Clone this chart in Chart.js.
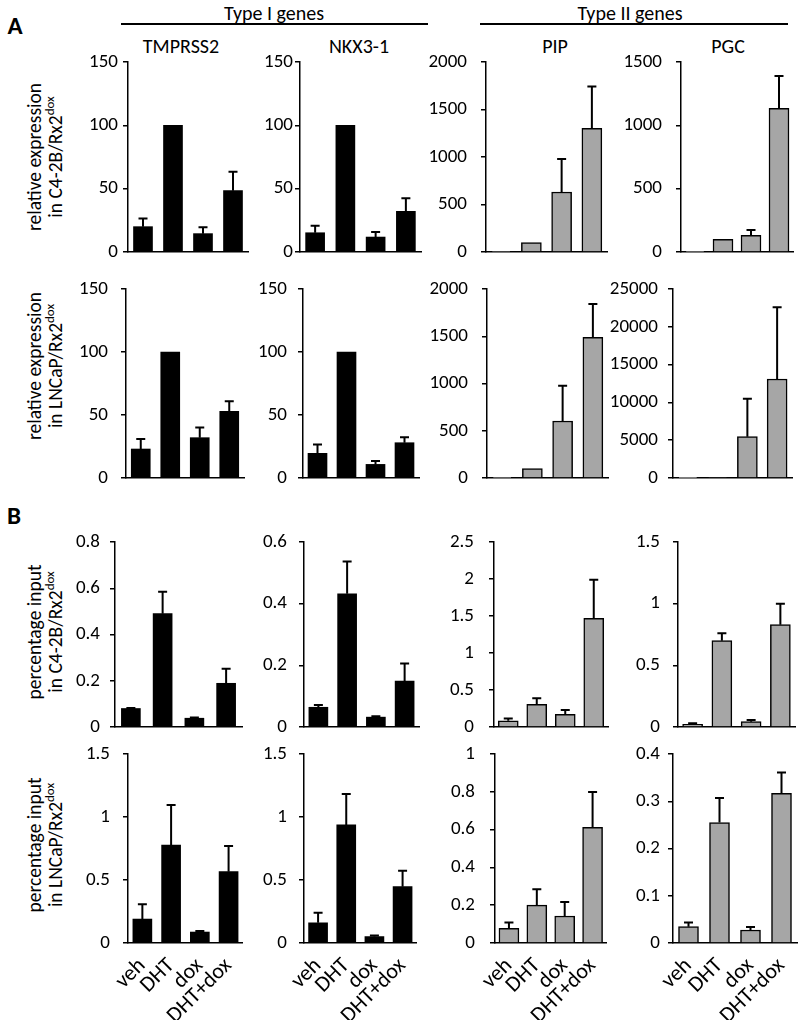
<!DOCTYPE html>
<html>
<head>
<meta charset="utf-8">
<script src="https://cdn.jsdelivr.net/npm/chart.js@4.4.0/dist/chart.umd.min.js"></script>
<style>
body { margin: 0; background: #fff; }
#fig { position: relative; width: 800px; height: 1020px; overflow: hidden; font-family: Carlito, Lato, sans-serif; color: #000; }
#fig canvas { position: absolute; }
.txt { position: absolute; white-space: nowrap; transform: translate(-50%, -50%); font-size: 20px; }
.panel { font-weight: bold; font-size: 25px; }
.rule { position: absolute; height: 2px; background: #000; }
.ytitle { position: absolute; white-space: nowrap; transform: translate(-50%, -50%) rotate(-90deg); text-align: center; font-size: 19.5px; line-height: 21px; }
.ytitle sup { font-size: 13px; vertical-align: 0; position: relative; top: -8px; }
</style>
</head>
<body>
<div id="fig"></div>
<script>
const categories = ['veh', 'DHT', 'dox', 'DHT+dox'];
const genes = ['TMPRSS2', 'NKX3-1', 'PIP', 'PGC'];
const geneTypes = ['Type I genes', 'Type II genes'];
const rowTitles = [
  ['relative expression', 'in C4-2B/Rx2'],
  ['relative expression', 'in LNCaP/Rx2'],
  ['percentage input', 'in C4-2B/Rx2'],
  ['percentage input', 'in LNCaP/Rx2']
];

// A: relative expression, one inner array per gene
const exprC42bMean = [[20, 100, 14.5, 48.4], [15.2, 100, 11.8, 32.1], [5, 100, 632, 1302], [3, 100, 132, 1134]];
const exprC42bErr = [[6.5, 0, 5, 15], [5.5, 0, 4, 10.3], [0, 0, 347, 440], [0, 0, 42, 255]];
const exprLncapMean = [[23, 100, 32, 53], [19.6, 100, 10.8, 28], [2, 100, 603, 1489], [10, 100, 5463, 13095]];
const exprLncapErr = [[8, 0, 8, 8], [7, 0, 2.7, 4.3], [0, 0, 374, 352], [0, 0, 5030, 9480]];
// B: percentage input (ChIP)
const chipC42bMean = [[0.08, 0.49, 0.038, 0.189], [0.064, 0.432, 0.032, 0.149], [0.085, 0.307, 0.17, 1.47], [0.022, 0.70, 0.043, 0.83]];
const chipC42bErr = [[0.002, 0.095, 0.003, 0.063], [0.007, 0.105, 0.003, 0.057], [0.03, 0.08, 0.06, 0.52], [0.008, 0.06, 0.014, 0.17]];
const chipLncapMean = [[0.19, 0.778, 0.087, 0.566], [0.161, 0.937, 0.05, 0.447], [0.078, 0.2, 0.143, 0.612], [0.0345, 0.255, 0.0275, 0.317]];
const chipLncapErr = [[0.117, 0.317, 0.008, 0.204], [0.079, 0.246, 0.01, 0.127], [0.03, 0.084, 0.074, 0.187], [0.009, 0.052, 0.0065, 0.044]];

const yMax = [[150, 150, 2000, 1500], [150, 150, 2000, 25000], [0.8, 0.6, 2.5, 1.5], [1.5, 1.5, 1, 0.4]];
const yStep = [[50, 50, 500, 500], [50, 50, 500, 5000], [0.2, 0.2, 0.5, 0.5], [0.5, 0.5, 0.2, 0.1]];

const means = [exprC42bMean, exprLncapMean, chipC42bMean, chipLncapMean];
const errs = [exprC42bErr, exprLncapErr, chipC42bErr, chipLncapErr];

// layout (pixels)
const rowTop = [62, 289, 542, 754];
const rowBottom = [252, 478, 727, 943];
const plotLeft = [[128, 300, 486, 681], [126, 303, 487, 673], [115, 304, 494, 678], [128, 304, 495, 673]];
const plotWidth = [[120, 121, 121, 112], [118, 116, 121, 119], [127, 115, 114, 117], [116, 114, 113, 124]];
const labelGap = [[10, 7, 19, 19], [18, 16, 19, 15], [15, 17, 20, 18], [18, 17, 20, 13]];
const titleY = [157, 366, 632, 845];
const geneX = [181, 359, 555, 728];

const fig = document.getElementById('fig');
Chart.defaults.font.family = 'Carlito, Lato, sans-serif';
Chart.defaults.color = '#000';

function addText(cls, html, x, y) {
  const d = document.createElement('div');
  d.className = cls;
  d.innerHTML = html;
  d.style.left = x + 'px';
  d.style.top = y + 'px';
  fig.appendChild(d);
}
function addRule(x1, x2, y) {
  const d = document.createElement('div');
  d.className = 'rule';
  d.style.left = x1 + 'px';
  d.style.width = (x2 - x1) + 'px';
  d.style.top = (y - 1) + 'px';
  fig.appendChild(d);
}

addText('txt panel', 'A', 15, 25);
addText('txt panel', 'B', 14, 515);
addText('txt', geneTypes[0], 274, 13);
addText('txt', geneTypes[1], 630, 13);
addRule(121, 428, 24);
addRule(480, 788, 24);
genes.forEach((g, i) => addText('txt', g, geneX[i], 46));
rowTitles.forEach((t, r) => addText('ytitle', t[0] + '<br>' + t[1] + '<sup>dox</sup>', 46, titleY[r]));

// upward error bars, positioned through the y scale
const errorBars = {
  id: 'errorBars',
  afterDatasetsDraw(chart) {
    const ctx = chart.ctx, y = chart.scales.y;
    chart.data.datasets.forEach((ds, di) => {
      chart.getDatasetMeta(di).data.forEach((bar, i) => {
        const e = ds.err[i];
        if (!e) return;
        const yTop = y.getPixelForValue(ds.data[i] + e);
        ctx.save();
        ctx.strokeStyle = '#000';
        ctx.lineWidth = 2;
        ctx.beginPath();
        ctx.moveTo(bar.x, bar.y);
        ctx.lineTo(bar.x, yTop);
        ctx.moveTo(bar.x - 4.5, yTop);
        ctx.lineTo(bar.x + 4.5, yTop);
        ctx.stroke();
        ctx.restore();
      });
    });
  }
};

// padding must exceed half a tick label + tick padding so the plot area stays put
const AXIS_W = 80, PAD_T = 32, PAD_R = 6;
const fmt = v => String(Math.round(v * 1000) / 1000);

function makeChart(r, c) {
  const last = r === 3;
  const xH = last ? 77 : 32;
  const typeII = c >= 2;
  const cv = document.createElement('canvas');
  cv.width = AXIS_W + plotWidth[r][c] + PAD_R;
  cv.height = PAD_T + (rowBottom[r] - rowTop[r]) + xH;
  cv.style.left = (plotLeft[r][c] - AXIS_W) + 'px';
  cv.style.top = (rowTop[r] - PAD_T) + 'px';
  fig.appendChild(cv);

  new Chart(cv, {
    type: 'bar',
    data: {
      labels: categories,
      datasets: [{
        data: means[r][c],
        err: errs[r][c],
        backgroundColor: typeII ? '#a6a6a6' : '#000',
        borderColor: '#000',
        borderWidth: typeII ? 1.5 : 0,
        barThickness: typeII ? 20 : 19
      }]
    },
    options: {
      responsive: false,
      animation: false,
      layout: { padding: { top: PAD_T, right: PAD_R, left: 0, bottom: 0 } },
      plugins: { legend: { display: false }, tooltip: { enabled: false } },
      scales: {
        x: {
          offset: true,
          grid: { display: false },
          border: { display: true, color: '#000', width: 1.5 },
          ticks: { display: last, maxRotation: 45, minRotation: 45, autoSkip: false, padding: 2, font: { size: 22 }, color: '#000' },
          afterFit: s => { s.height = xH; }
        },
        y: {
          min: 0,
          max: yMax[r][c],
          ticks: { stepSize: yStep[r][c], padding: labelGap[r][c] - 5, font: { size: 19 }, color: '#000', callback: v => fmt(v) },
          grid: { display: true, drawOnChartArea: false, drawTicks: true, tickLength: 5, tickColor: '#000', tickWidth: 1.5, lineWidth: 1.5 },
          border: { display: true, color: '#000', width: 1.5 },
          afterFit: s => { s.width = AXIS_W; }
        }
      }
    },
    plugins: [errorBars]
  });
}

for (let r = 0; r < 4; r++) {
  for (let c = 0; c < 4; c++) makeChart(r, c);
}
</script>
</body>
</html>
